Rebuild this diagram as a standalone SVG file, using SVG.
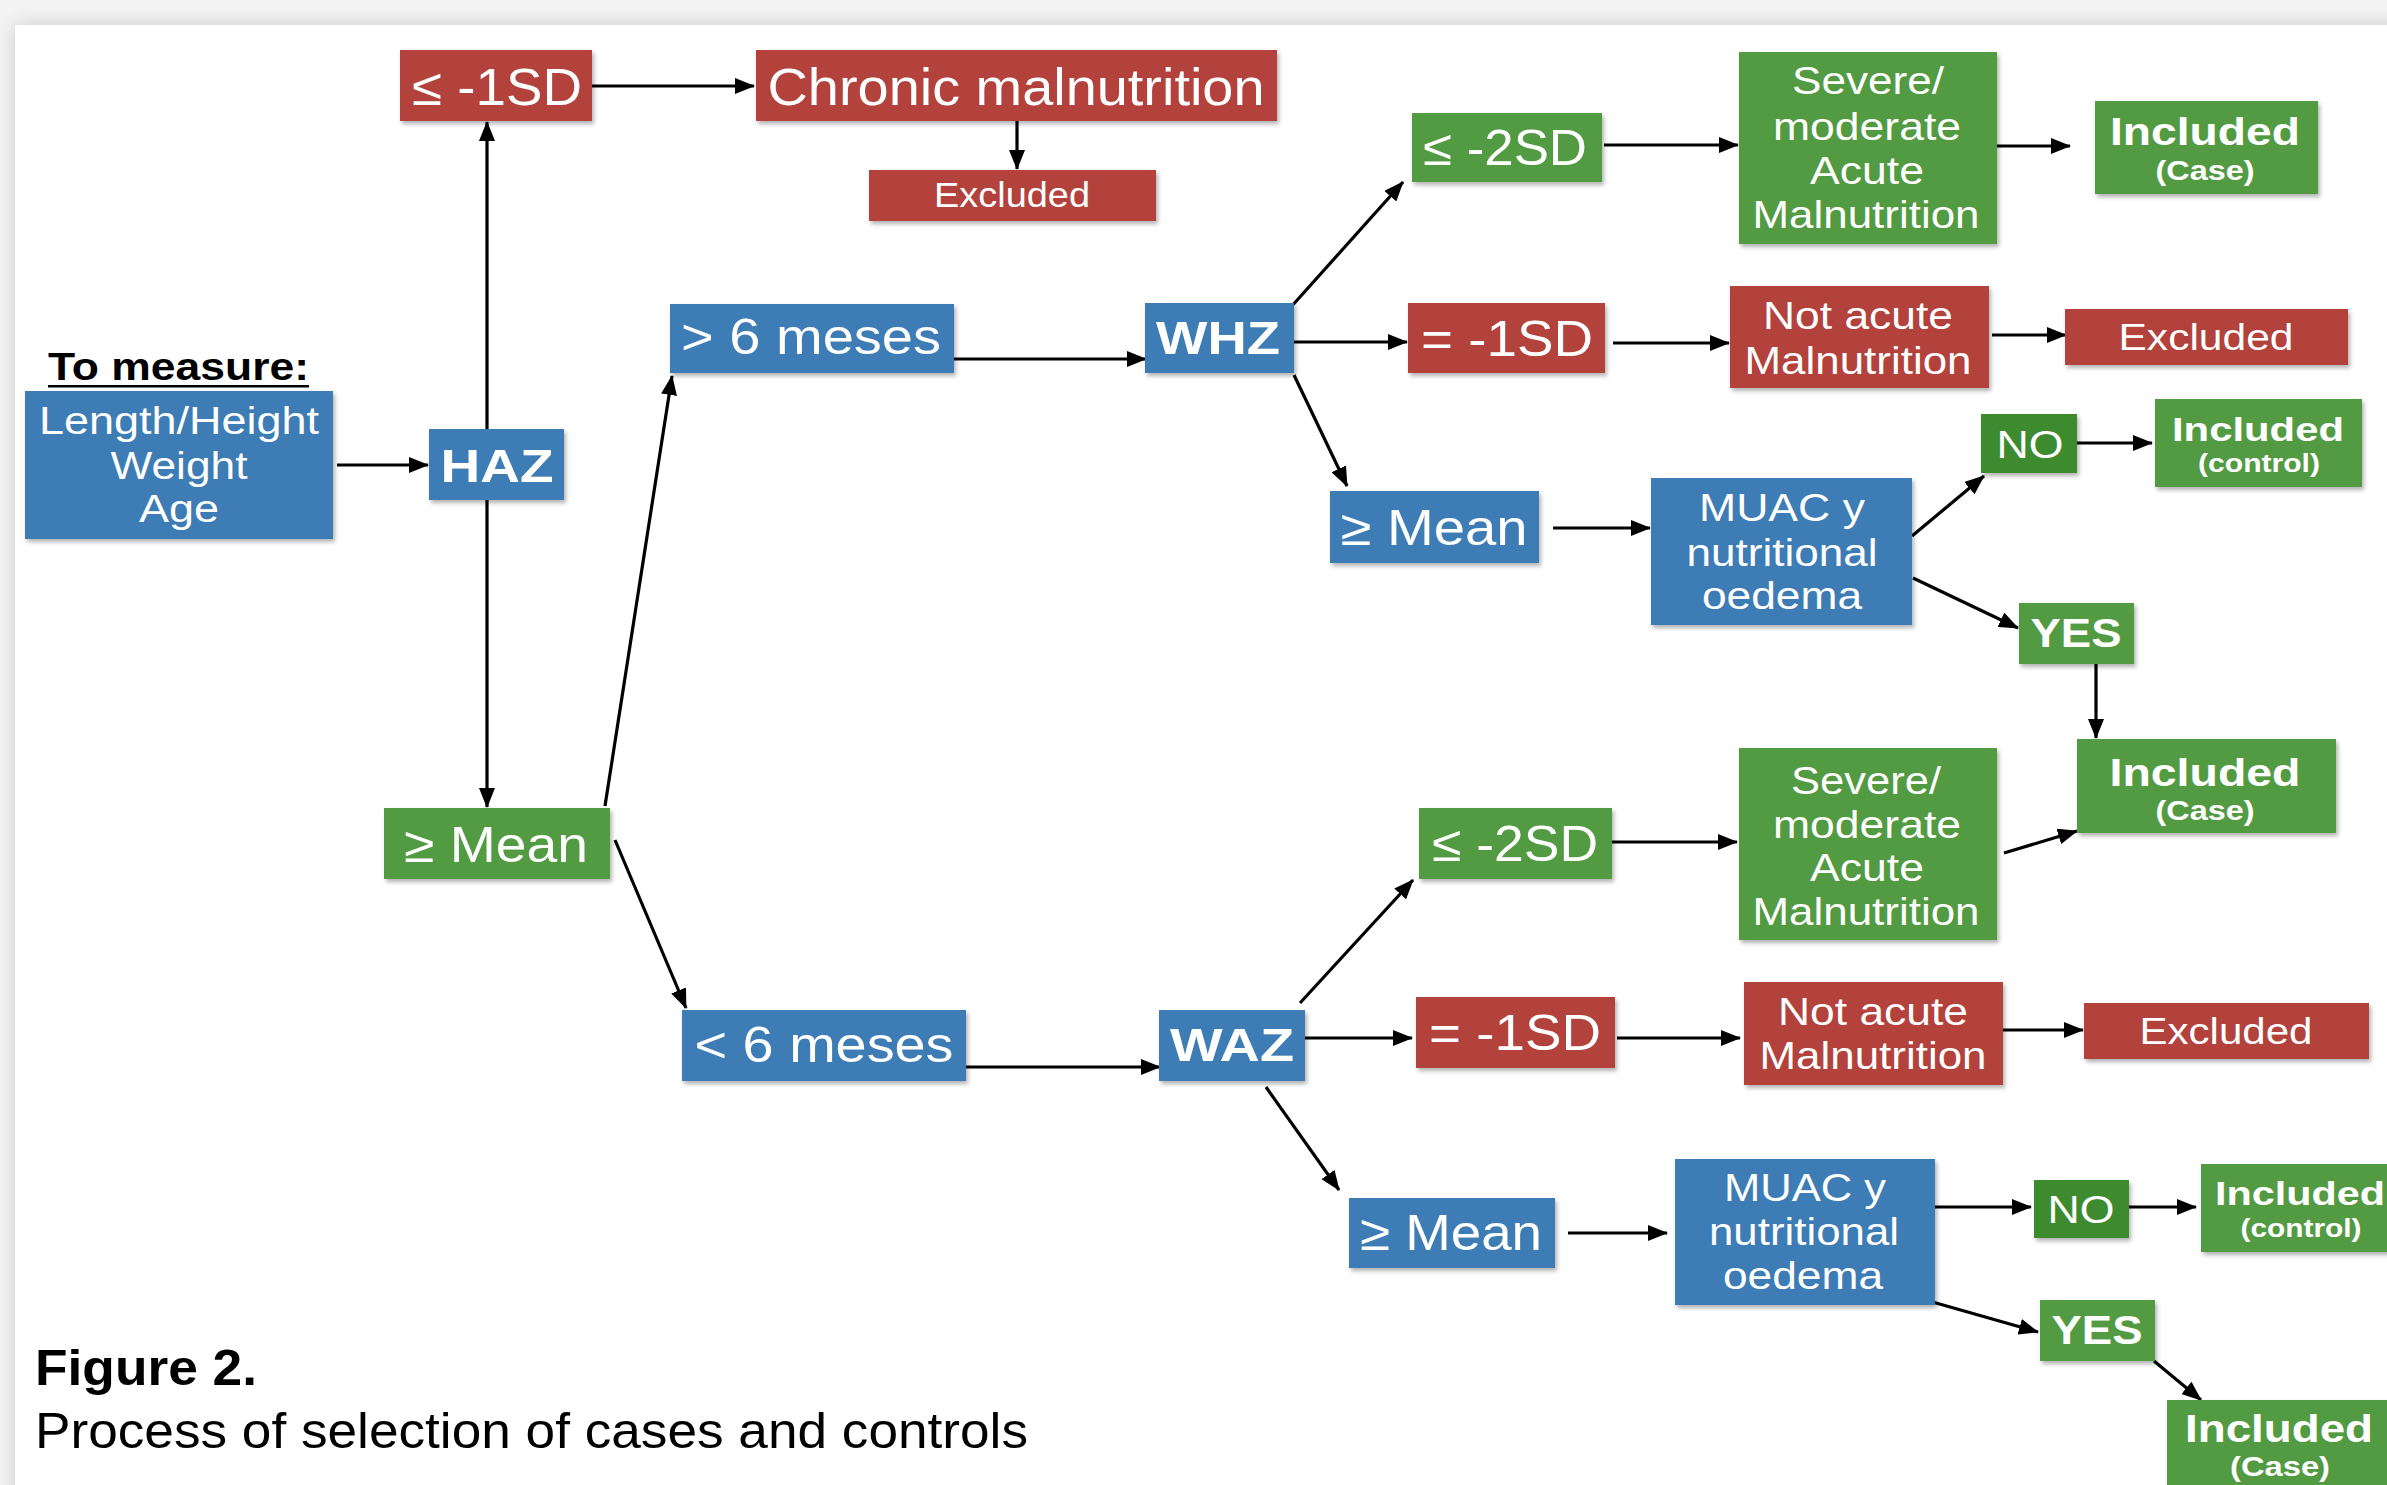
<svg xmlns="http://www.w3.org/2000/svg" width="2387" height="1485" viewBox="0 0 2387 1485">
<defs>
<style>
text{font-family:"Liberation Sans",Arial,sans-serif;fill:#fff;text-anchor:middle}
.big{font-size:50px}
.mid{font-size:39px}
.bold{font-weight:bold}
.blk{fill:#000;text-anchor:start}
.g{fill:#539b43}
.r{fill:#b2423a}
.b{fill:#3d7cb4}
.dg{fill:#3e8b2e}
.box{filter:url(#sh)}
.cn line{stroke:#000;stroke-width:3.2;marker-end:url(#ah)}
</style>
<filter id="sh" x="-10%" y="-10%" width="130%" height="140%">
<feDropShadow dx="2" dy="3" stdDeviation="2" flood-color="#000" flood-opacity="0.3"/>
</filter>
<filter id="cardsh" x="-5%" y="-5%" width="110%" height="110%">
<feGaussianBlur stdDeviation="10"/>
</filter>
<marker id="ah" markerWidth="20" markerHeight="16" refX="19" refY="8" orient="auto" markerUnits="userSpaceOnUse">
<path d="M0,0 L20,8 L0,16 z" fill="#000"/>
</marker>
</defs>
<rect x="0" y="0" width="2387" height="1485" fill="#f4f4f4"/>
<rect x="15" y="25" width="2400" height="1500" fill="#c8c8c8" filter="url(#cardsh)"/>
<rect x="15" y="25" width="2400" height="1500" fill="#fff"/>

<g id="connectors" class="cn">
<line x1="337" y1="465" x2="428" y2="465"/>
<line x1="487" y1="429" x2="487" y2="122"/>
<line x1="487" y1="500" x2="487" y2="807"/>
<line x1="592" y1="86" x2="754" y2="86"/>
<line x1="1017" y1="121" x2="1017" y2="169"/>
<line x1="605" y1="806" x2="672" y2="376"/>
<line x1="615" y1="840" x2="686" y2="1008"/>
<line x1="954" y1="359" x2="1146" y2="359"/>
<line x1="966" y1="1067" x2="1160" y2="1067"/>
<line x1="1291" y1="307" x2="1403" y2="182"/>
<line x1="1294" y1="342" x2="1407" y2="342"/>
<line x1="1294" y1="375" x2="1347" y2="486"/>
<line x1="1604" y1="145" x2="1738" y2="145"/>
<line x1="1997" y1="146" x2="2070" y2="146"/>
<line x1="1613" y1="343" x2="1729" y2="343"/>
<line x1="1992" y1="335" x2="2066" y2="335"/>
<line x1="1553" y1="528" x2="1650" y2="528"/>
<line x1="1912" y1="536" x2="1984" y2="476"/>
<line x1="2077" y1="443" x2="2152" y2="443"/>
<line x1="1913" y1="578" x2="2018" y2="628"/>
<line x1="2096" y1="664" x2="2096" y2="738"/>
<line x1="1612" y1="842" x2="1737" y2="842"/>
<line x1="2004" y1="853" x2="2077" y2="831"/>
<line x1="1300" y1="1003" x2="1413" y2="880"/>
<line x1="1304" y1="1038" x2="1412" y2="1038"/>
<line x1="1266" y1="1087" x2="1339" y2="1190"/>
<line x1="1617" y1="1038" x2="1740" y2="1038"/>
<line x1="2003" y1="1030" x2="2083" y2="1030"/>
<line x1="1568" y1="1233" x2="1667" y2="1233"/>
<line x1="1935" y1="1207" x2="2031" y2="1207"/>
<line x1="2129" y1="1207" x2="2196" y2="1207"/>
<line x1="1929" y1="1301" x2="2038" y2="1332"/>
<line x1="2154" y1="1361" x2="2201" y2="1400"/>
</g>

<g id="to-measure">
<text class="blk bold" x="48" y="380" font-size="39" textLength="261" lengthAdjust="spacingAndGlyphs">To measure:</text>
<rect x="48" y="385" width="261" height="2.5" fill="#000"/>
</g>
<g id="measure">
<rect class="box b" x="25" y="391" width="308" height="148"/>
<text class="mid" x="179" y="434" textLength="280" lengthAdjust="spacingAndGlyphs">Length/Height</text>
<text class="mid" x="179" y="479" textLength="137" lengthAdjust="spacingAndGlyphs">Weight</text>
<text class="mid" x="179" y="522" textLength="80" lengthAdjust="spacingAndGlyphs">Age</text>
</g>
<g id="haz">
<rect class="box b" x="429" y="429" width="135" height="71"/>
<text class="bold" x="497" y="482" font-size="46" textLength="113" lengthAdjust="spacingAndGlyphs">HAZ</text>
</g>
<g id="le1sd">
<rect class="box r" x="400" y="50" width="192" height="71"/>
<text x="497" y="105" font-size="52" textLength="170" lengthAdjust="spacingAndGlyphs">≤ -1SD</text>
</g>
<g id="chronic">
<rect class="box r" x="756" y="50" width="521" height="71"/>
<text x="1016" y="105" font-size="52" textLength="497" lengthAdjust="spacingAndGlyphs">Chronic malnutrition</text>
</g>
<g id="excluded-chronic">
<rect class="box r" x="869" y="170" width="287" height="51"/>
<text x="1012" y="207" font-size="35" textLength="156" lengthAdjust="spacingAndGlyphs">Excluded</text>
</g>
<g id="mean-haz">
<rect class="box g" x="384" y="808" width="226" height="71"/>
<text class="big" x="496" y="862" textLength="184" lengthAdjust="spacingAndGlyphs">≥ Mean</text>
</g>
<g id="gt6">
<rect class="box b" x="670" y="304" width="284" height="69"/>
<text class="big" x="811" y="354" textLength="260" lengthAdjust="spacingAndGlyphs">&gt; 6 meses</text>
</g>
<g id="lt6">
<rect class="box b" x="682" y="1010" width="284" height="71"/>
<text class="big" x="824" y="1062" textLength="259" lengthAdjust="spacingAndGlyphs">&lt; 6 meses</text>
</g>
<g id="whz">
<rect class="box b" x="1145" y="303" width="149" height="70"/>
<text class="bold" x="1218" y="354" font-size="46" textLength="124" lengthAdjust="spacingAndGlyphs">WHZ</text>
</g>
<g id="waz">
<rect class="box b" x="1159" y="1010" width="146" height="71"/>
<text class="bold" x="1232" y="1061" font-size="46" textLength="124" lengthAdjust="spacingAndGlyphs">WAZ</text>
</g>

<g id="whz-le2sd">
<rect class="box g" x="1412" y="113" width="190" height="69"/>
<text class="big" x="1505" y="165" textLength="164" lengthAdjust="spacingAndGlyphs">≤ -2SD</text>
</g>
<g id="whz-eq1sd">
<rect class="box r" x="1408" y="303" width="197" height="70"/>
<text class="big" x="1507" y="356" textLength="172" lengthAdjust="spacingAndGlyphs">= -1SD</text>
</g>
<g id="whz-mean">
<rect class="box b" x="1330" y="491" width="209" height="72"/>
<text class="big" x="1434" y="545" textLength="187" lengthAdjust="spacingAndGlyphs">≥ Mean</text>
</g>
<g id="whz-severe">
<rect class="box g" x="1739" y="52" width="258" height="192"/>
<text class="mid" x="1868" y="94" textLength="152" lengthAdjust="spacingAndGlyphs">Severe/</text>
<text class="mid" x="1867" y="140" textLength="188" lengthAdjust="spacingAndGlyphs">moderate</text>
<text class="mid" x="1867" y="184" textLength="114" lengthAdjust="spacingAndGlyphs">Acute</text>
<text class="mid" x="1866" y="228" textLength="227" lengthAdjust="spacingAndGlyphs">Malnutrition</text>
</g>
<g id="whz-included-case">
<rect class="box g" x="2095" y="101" width="223" height="93"/>
<text class="bold" x="2205" y="145" font-size="39" textLength="190" lengthAdjust="spacingAndGlyphs">Included</text>
<text class="bold" x="2205" y="180" font-size="27" textLength="99" lengthAdjust="spacingAndGlyphs">(Case)</text>
</g>
<g id="whz-notacute">
<rect class="box r" x="1730" y="286" width="259" height="102"/>
<text class="mid" x="1858" y="329" textLength="190" lengthAdjust="spacingAndGlyphs">Not acute</text>
<text class="mid" x="1858" y="374" textLength="227" lengthAdjust="spacingAndGlyphs">Malnutrition</text>
</g>
<g id="whz-excluded">
<rect class="box r" x="2065" y="309" width="283" height="56"/>
<text x="2206" y="350" font-size="36" textLength="175" lengthAdjust="spacingAndGlyphs">Excluded</text>
</g>
<g id="whz-muac">
<rect class="box b" x="1651" y="478" width="261" height="147"/>
<text class="mid" x="1782" y="521" textLength="166" lengthAdjust="spacingAndGlyphs">MUAC y</text>
<text class="mid" x="1782" y="566" textLength="191" lengthAdjust="spacingAndGlyphs">nutritional</text>
<text class="mid" x="1782" y="609" textLength="160" lengthAdjust="spacingAndGlyphs">oedema</text>
</g>
<g id="whz-no">
<rect class="box dg" x="1981" y="414" width="96" height="59"/>
<text class="mid" x="2030" y="458" textLength="67" lengthAdjust="spacingAndGlyphs">NO</text>
</g>
<g id="whz-included-control">
<rect class="box g" x="2155" y="399" width="207" height="88"/>
<text class="bold" x="2258" y="441" font-size="34" textLength="172" lengthAdjust="spacingAndGlyphs">Included</text>
<text class="bold" x="2259" y="472" font-size="25" textLength="122" lengthAdjust="spacingAndGlyphs">(control)</text>
</g>
<g id="whz-yes">
<rect class="box g" x="2019" y="603" width="115" height="61"/>
<text class="bold" x="2076" y="647" font-size="40" textLength="91" lengthAdjust="spacingAndGlyphs">YES</text>
</g>
<g id="included-case-mid">
<rect class="box g" x="2077" y="739" width="259" height="94"/>
<text class="bold" x="2205" y="786" font-size="39" textLength="191" lengthAdjust="spacingAndGlyphs">Included</text>
<text class="bold" x="2205" y="820" font-size="27" textLength="99" lengthAdjust="spacingAndGlyphs">(Case)</text>
</g>

<g id="waz-le2sd">
<rect class="box g" x="1419" y="808" width="193" height="71"/>
<text class="big" x="1515" y="861" textLength="166" lengthAdjust="spacingAndGlyphs">≤ -2SD</text>
</g>
<g id="waz-eq1sd">
<rect class="box r" x="1416" y="997" width="199" height="71"/>
<text class="big" x="1515" y="1050" textLength="172" lengthAdjust="spacingAndGlyphs">= -1SD</text>
</g>
<g id="waz-mean">
<rect class="box b" x="1349" y="1198" width="206" height="70"/>
<text class="big" x="1451" y="1250" textLength="182" lengthAdjust="spacingAndGlyphs">≥ Mean</text>
</g>
<g id="waz-severe">
<rect class="box g" x="1739" y="748" width="258" height="192"/>
<text class="mid" x="1866" y="794" textLength="150" lengthAdjust="spacingAndGlyphs">Severe/</text>
<text class="mid" x="1867" y="838" textLength="188" lengthAdjust="spacingAndGlyphs">moderate</text>
<text class="mid" x="1867" y="881" textLength="114" lengthAdjust="spacingAndGlyphs">Acute</text>
<text class="mid" x="1866" y="925" textLength="227" lengthAdjust="spacingAndGlyphs">Malnutrition</text>
</g>
<g id="waz-notacute">
<rect class="box r" x="1744" y="982" width="259" height="103"/>
<text class="mid" x="1873" y="1025" textLength="190" lengthAdjust="spacingAndGlyphs">Not acute</text>
<text class="mid" x="1873" y="1069" textLength="227" lengthAdjust="spacingAndGlyphs">Malnutrition</text>
</g>
<g id="waz-excluded">
<rect class="box r" x="2084" y="1003" width="285" height="56"/>
<text x="2226" y="1044" font-size="36" textLength="173" lengthAdjust="spacingAndGlyphs">Excluded</text>
</g>
<g id="waz-muac">
<rect class="box b" x="1675" y="1159" width="260" height="146"/>
<text class="mid" x="1805" y="1201" textLength="162" lengthAdjust="spacingAndGlyphs">MUAC y</text>
<text class="mid" x="1804" y="1245" textLength="190" lengthAdjust="spacingAndGlyphs">nutritional</text>
<text class="mid" x="1803" y="1289" textLength="160" lengthAdjust="spacingAndGlyphs">oedema</text>
</g>
<g id="waz-no">
<rect class="box dg" x="2034" y="1180" width="95" height="58"/>
<text class="mid" x="2081" y="1223" textLength="67" lengthAdjust="spacingAndGlyphs">NO</text>
</g>
<g id="waz-included-control">
<rect class="box g" x="2201" y="1164" width="210" height="88"/>
<text class="bold" x="2300" y="1205" font-size="34" textLength="170" lengthAdjust="spacingAndGlyphs">Included</text>
<text class="bold" x="2301" y="1237" font-size="25" textLength="121" lengthAdjust="spacingAndGlyphs">(control)</text>
</g>
<g id="waz-yes">
<rect class="box g" x="2040" y="1300" width="115" height="61"/>
<text class="bold" x="2097" y="1344" font-size="40" textLength="91" lengthAdjust="spacingAndGlyphs">YES</text>
</g>
<g id="waz-included-case">
<rect class="box g" x="2167" y="1400" width="230" height="100"/>
<text class="bold" x="2279" y="1442" font-size="39" textLength="188" lengthAdjust="spacingAndGlyphs">Included</text>
<text class="bold" x="2280" y="1476" font-size="27" textLength="100" lengthAdjust="spacingAndGlyphs">(Case)</text>
</g>

<g id="caption">
<text class="blk bold" x="35" y="1385" font-size="50" textLength="222" lengthAdjust="spacingAndGlyphs">Figure 2.</text>
<text class="blk" x="35" y="1448" font-size="50" textLength="993" lengthAdjust="spacingAndGlyphs">Process of selection of cases and controls</text>
</g>
</svg>
